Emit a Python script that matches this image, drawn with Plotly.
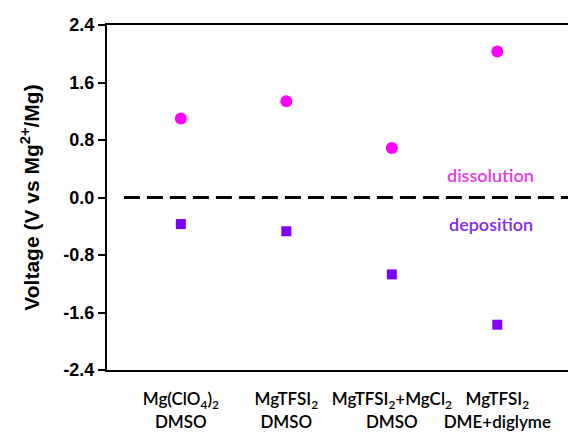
import plotly.graph_objects as go

categories = ["Mg(ClO<sub>4</sub>)<sub>2</sub><br>DMSO",
              "MgTFSI<sub>2</sub><br>DMSO",
              "MgTFSI<sub>2</sub>+MgCl<sub>2</sub><br>DMSO",
              "MgTFSI<sub>2</sub><br>DME+diglyme"]
cat_pos = [1, 2, 3, 4]
dissolution = [1.10, 1.34, 0.69, 2.03]
deposition = [-0.37, -0.47, -1.07, -1.77]
y_ticks = [-2.4, -1.6, -0.8, 0.0, 0.8, 1.6, 2.4]
y_ticklabels = ["-2.4", "-1.6", "-0.8", "0.0", "0.8", "1.6", "2.4"]

fig = go.Figure()
fig.add_trace(go.Scatter(x=[0.46, 4.67], y=[0, 0], mode="lines",
                         line=dict(color="black", width=3, dash="16px,7px"),
                         showlegend=False, hoverinfo="skip"))
fig.add_trace(go.Scatter(x=cat_pos, y=dissolution, mode="markers",
                         marker=dict(symbol="circle", size=12, color="#ff00ff"),
                         showlegend=False))
fig.add_trace(go.Scatter(x=cat_pos, y=deposition, mode="markers",
                         marker=dict(symbol="square", size=10, color="#7f00ff"),
                         showlegend=False))

fig.add_annotation(x=3.94, y=0.31, text="dissolution", showarrow=False,
                   font=dict(family="Lato", size=18, color="#e63be6", weight=600))
fig.add_annotation(x=3.94, y=-0.37, text="deposition", showarrow=False,
                   font=dict(family="Lato", size=18, color="#8a2be2", weight=600))

fig.update_layout(
    width=568, height=433,
    margin=dict(l=107, r=0, t=25, b=63),
    plot_bgcolor="white", paper_bgcolor="white",
    xaxis=dict(range=[0.3, 4.67], tickvals=cat_pos, ticktext=categories,
               showline=True, linecolor="black", linewidth=2, mirror=True,
               showgrid=False, zeroline=False, ticks="", tickangle=0,
               automargin=False, ticklabelstandoff=13,
               tickfont=dict(family="Lato", size=17, color="black", weight=600)),
    yaxis=dict(range=[-2.4, 2.4], tickvals=y_ticks, ticktext=y_ticklabels,
               showline=True, linecolor="black", linewidth=2, mirror=False,
               showgrid=False, zeroline=False, ticks="outside", ticklen=7,
               tickwidth=2, tickcolor="black", automargin=False,
               tickfont=dict(family="Arial, Liberation Sans", size=18, color="black", weight="bold"),
               title=dict(text="Voltage (V vs Mg<sup>2+</sup>/Mg)",
                          font=dict(family="Arial, Liberation Sans", size=21, color="black", weight="bold"),
                          standoff=18)),
)
fig.write_html("out.html")
